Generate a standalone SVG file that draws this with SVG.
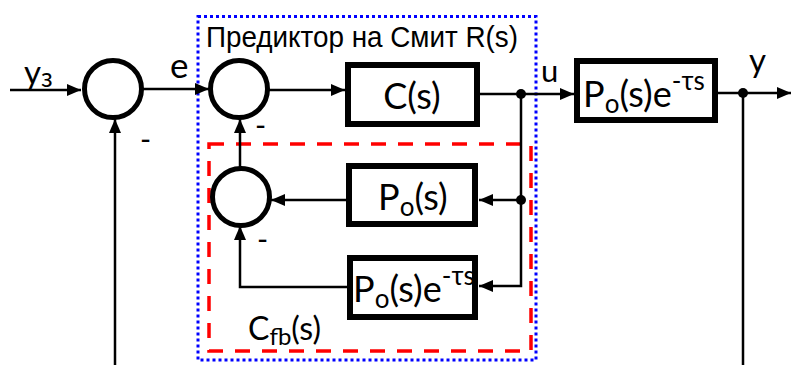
<svg xmlns="http://www.w3.org/2000/svg" width="791" height="365" viewBox="0 0 791 365">
<style>
.blk{fill:#fff;stroke:#000;stroke-width:6}
.sum{fill:#fff;stroke:#000;stroke-width:5}
.ln{fill:none;stroke:#000;stroke-width:2.5}
.t{font-family:Lato,"Open Sans","Liberation Sans",sans-serif;fill:#000}
.title{font-family:"Liberation Sans",Arial,sans-serif;font-size:30px;fill:#000}
.dot{fill:#000}
</style>
<defs>
<marker id="ah" markerWidth="14" markerHeight="12" refX="14" refY="6" orient="auto" markerUnits="userSpaceOnUse"><path d="M0,0 L14,6 L0,12 z" fill="#000"/></marker>
</defs>
<rect width="791" height="365" fill="#fff"/>
<g id="frames">
<rect id="smith" x="198" y="16.5" width="338" height="343.5" fill="none" stroke="#0000ff" stroke-width="3" stroke-dasharray="3 3"/>
<rect id="cfb" x="209" y="144" width="322" height="207" fill="none" stroke="#ff0000" stroke-width="3.5" stroke-dasharray="15 12"/>
</g>
<g id="connectors">
<path class="ln" d="M10,90 H81" marker-end="url(#ah)"/>
<path class="ln" d="M141,89 H209" marker-end="url(#ah)"/>
<path class="ln" d="M267,90 H345" marker-end="url(#ah)"/>
<path class="ln" d="M480,94 H574" marker-end="url(#ah)"/>
<path class="ln" d="M717,93 H791" marker-end="url(#ah)"/>
<path class="ln" d="M743,93 V365"/>
<path class="ln" d="M115,365 V119" marker-end="url(#ah)"/>
<path class="ln" d="M521,94 V286 H479" marker-end="url(#ah)"/>
<path class="ln" d="M521,200 H479" marker-end="url(#ah)"/>
<path class="ln" d="M346,200 H271" marker-end="url(#ah)"/>
<path class="ln" d="M347,287 H240 V226" marker-end="url(#ah)"/>
<path class="ln" d="M240,167 V119" marker-end="url(#ah)"/>
<circle class="dot" cx="521" cy="94" r="5"/>
<circle class="dot" cx="521" cy="200" r="5"/>
<circle class="dot" cx="743" cy="93" r="5"/>
</g>
<g id="sum1"><circle class="sum" cx="113" cy="89" r="28.5"/></g>
<g id="sum2"><circle class="sum" cx="239" cy="89" r="28.5"/></g>
<g id="sum3"><circle class="sum" cx="241" cy="197" r="28.5"/></g>
<g id="C"><rect class="blk" x="348" y="65" width="129" height="59"/><text class="t" x="412" y="109" font-size="36" text-anchor="middle">C(s)</text></g>
<g id="plant"><rect class="blk" x="577" y="61" width="138" height="59"/><text class="t" x="583" y="107" font-size="36">P<tspan font-size="26" dy="6">o</tspan><tspan dy="-6">(s)e</tspan><tspan font-size="26" dy="-17">-τs</tspan></text></g>
<g id="model"><rect class="blk" x="349" y="166" width="126" height="58"/><text class="t" x="378" y="210" font-size="36">P<tspan font-size="26" dy="6">o</tspan><tspan dy="-6">(s)</tspan></text></g>
<g id="modeld"><rect class="blk" x="350" y="258" width="125" height="59"/><text class="t" x="353" y="302" font-size="36">P<tspan font-size="26" dy="6">o</tspan><tspan dy="-6">(s)e</tspan><tspan font-size="26" dy="-17">-τs</tspan></text></g>
<g id="labels">
<text class="title" x="206" y="47" textLength="312" lengthAdjust="spacingAndGlyphs">Предиктор на Смит R(s)</text>
<text class="t" x="248" y="340" font-size="32">C<tspan font-size="24" dy="5">fb</tspan><tspan dy="-5">(s)</tspan></text>
<text class="t" x="24" y="84" font-size="33">y<tspan font-size="26" dy="3">з</tspan></text>
<text class="t" x="170" y="78" font-size="35">e</text>
<text class="t" x="541" y="82" font-size="31">u</text>
<text class="t" x="749" y="72" font-size="33">y</text>
<text class="t" x="140" y="150" font-size="30">-</text>
<text class="t" x="255" y="136" font-size="30">-</text>
<text class="t" x="257" y="250" font-size="30">-</text>
</g>
</svg>
